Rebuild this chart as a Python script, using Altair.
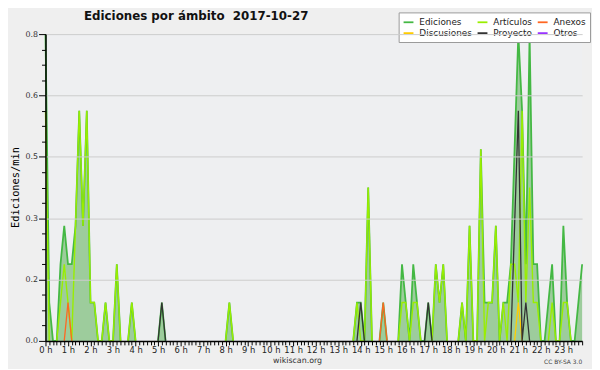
import altair as alt
import pandas as pd

# 10-minute bins over the day (144 bins), values in edits/min
series_names = ["Ediciones", "Artículos", "Anexos", "Discusiones", "Proyecto", "Otros"]
series_colors = ["#44b844", "#99ee00", "#ff6622", "#ffcc00", "#333333", "#9933ff"]
title_text = "Ediciones por ámbito\u00a0\u00a02017-10-27"

ediciones = [
    0.8, 0.1, 0, 0, 0.2, 0.3, 0.2, 0.2, 0.3, 0.6, 0.3, 0.6,
    0.1, 0.1, 0, 0, 0.1, 0, 0, 0.2, 0, 0, 0, 0.1,
    0, 0, 0, 0, 0, 0, 0, 0.1, 0, 0, 0, 0,
    0, 0, 0, 0, 0, 0, 0, 0, 0, 0, 0, 0,
    0, 0.1, 0, 0, 0, 0, 0, 0, 0, 0, 0, 0,
    0, 0, 0, 0, 0, 0, 0, 0, 0, 0, 0, 0,
    0, 0, 0, 0, 0, 0, 0, 0, 0, 0, 0, 0.1,
    0.1, 0, 0.4, 0, 0, 0, 0.1, 0, 0, 0, 0, 0.2,
    0.1, 0, 0.2, 0.1, 0, 0, 0.1, 0, 0.2, 0.1, 0.2, 0,
    0, 0, 0, 0.1, 0, 0.3, 0, 0, 0.5, 0.1, 0.1, 0.1,
    0.3, 0, 0.1, 0.1, 0.2, 0.5, 0.8, 0.6, 0.2, 0.8, 0.2, 0.2,
    0, 0, 0.1, 0.2, 0, 0, 0.3, 0.1, 0, 0, 0.1, 0.2,
]
articulos = [
    0.6, 0, 0, 0, 0.1, 0.2, 0.1, 0, 0.3, 0.6, 0.3, 0.6,
    0.1, 0.1, 0, 0, 0.1, 0, 0, 0.2, 0, 0, 0, 0.1,
    0, 0, 0, 0, 0, 0, 0, 0, 0, 0, 0, 0,
    0, 0, 0, 0, 0, 0, 0, 0, 0, 0, 0, 0,
    0, 0.1, 0, 0, 0, 0, 0, 0, 0, 0, 0, 0,
    0, 0, 0, 0, 0, 0, 0, 0, 0, 0, 0, 0,
    0, 0, 0, 0, 0, 0, 0, 0, 0, 0, 0, 0.1,
    0, 0, 0.4, 0, 0, 0, 0, 0, 0, 0, 0, 0.1,
    0.1, 0, 0.1, 0.1, 0, 0, 0, 0, 0.2, 0.1, 0.2, 0,
    0, 0, 0, 0.1, 0, 0.3, 0, 0, 0.5, 0, 0.1, 0.1,
    0.3, 0, 0.1, 0, 0.2, 0.2, 0.1, 0.6, 0.1, 0.4, 0.1, 0.1,
    0, 0, 0, 0.1, 0, 0, 0.1, 0.1, 0, 0, 0, 0,
]
anexos = [0] * 144
anexos[6] = 0.1
anexos[90] = 0.1
discusiones = [0] * 144
discusiones[126] = 0.1
proyecto = [0] * 144
proyecto[31] = 0.1
proyecto[84] = 0.1
proyecto[102] = 0.1
proyecto[125] = 0.3
proyecto[126] = 0.6
proyecto[128] = 0.1
otros = [0] * 144

hours = [i / 6 for i in range(144)]
y_ticks = [round(i * 0.04, 2) for i in range(21)]

all_series = [ediciones, articulos, anexos, discusiones, proyecto, otros]
rows = []
for name, vals in zip(series_names, all_series):
    n = len(vals)
    for i, (h, v) in enumerate(zip(hours, vals)):
        # the line is not drawn along the baseline: break it where the
        # point and both its neighbours are zero
        prev_v = vals[i - 1] if i > 0 else 0
        next_v = vals[i + 1] if i < n - 1 else 0
        line_v = None if (v == 0 and prev_v == 0 and next_v == 0) else v
        rows.append({"hora": h, "serie": name, "valor": v, "linea": line_v})
df = pd.DataFrame(rows)

ymajor = "abs(datum.value/0.16 - round(datum.value/0.16)) < 0.001"
xmajor = "abs(datum.value - round(datum.value)) < 0.001"

x_axis = alt.Axis(
    values=hours,
    labelExpr=f"{xmajor} ? round(datum.value) + ' h' : ''",
    tickSize={"condition": {"test": xmajor, "value": 5}, "value": 4},
    labelOverlap=False, labelFlush=False, labelBound=False,
    labelFont="DejaVu Sans", labelFontSize=8.5, labelColor="#222222", labelPadding=0,
    grid=False, domainColor="#000000", domainWidth=1.5, tickColor="#000000",
    title="wikiscan.org", titleFont="DejaVu Sans", titleFontSize=8, titleFontWeight="normal",
    titleColor="#333333", titleX=255, titleY=22, titleAlign="center", titleBaseline="alphabetic",
    zindex=1,
)
y_axis = alt.Axis(
    values=y_ticks,
    labelExpr=f"{ymajor} ? format(datum.value, '.1f') : ''",
    tickSize={"condition": {"test": ymajor, "value": 7}, "value": 4},
    gridOpacity={"condition": {"test": ymajor, "value": 1}, "value": 0},
    grid=True, gridColor="#cccccc", gridWidth=1,
    labelOverlap=False, labelFlush=False, labelBound=False,
    labelFont="DejaVu Sans", labelFontSize=8, labelColor="#333333", labelPadding=1,
    domainColor="#000000", domainWidth=1.5, tickColor="#000000",
    title="Ediciones/min", titleFont="DejaVu Sans Mono", titleFontSize=10.5,
    titleFontWeight="normal", titleColor="#000000", titleX=-30, titleY=155,
    titleAngle=270, titleAlign="center", titleBaseline="middle",
    zindex=1,
)

X = alt.X("hora:Q", scale=alt.Scale(domain=[0, 143 / 6], nice=False, zero=False), axis=x_axis)
Y = alt.Y("valor:Q", scale=alt.Scale(domain=[0, 0.8], nice=False), axis=y_axis)
YL = alt.Y("linea:Q", scale=alt.Scale(domain=[0, 0.8], nice=False), axis=y_axis)

legend = alt.Legend(
    orient="none", legendX=358, legendY=-22, columns=3, direction="horizontal", title=None,
    symbolType="stroke", symbolSize=100, symbolStrokeWidth=1.8,
    labelFont="DejaVu Sans", labelFontSize=9, labelColor="#222222", labelOffset=5,
    fillColor="#ffffff", strokeColor="#999999", padding=4,
    columnPadding=1, rowPadding=-4,
)
color = alt.Color("serie:N", scale=alt.Scale(domain=series_names, range=series_colors), legend=legend)

base = alt.Chart(df)
area = base.transform_filter(alt.datum.serie == "Ediciones").mark_area(
    color="#9dcc9c", opacity=1, interpolate="linear"
).encode(x=X, y=Y)

layers = [area]
widths = {"Ediciones": 1.8, "Artículos": 1.4}
for name in series_names:
    layers.append(
        base.transform_filter(alt.datum.serie == name)
        .mark_line(strokeWidth=widths.get(name, 1.3), interpolate="linear",
                   invalid="break-paths-show-domains")
        .encode(x=X, y=YL, color=color, order="hora:Q")
    )

cc = alt.Chart(pd.DataFrame({"t": ["CC BY-SA 3.0"]})).mark_text(
    align="right", baseline="alphabetic", font="DejaVu Sans", fontSize=6, color="#444444"
).encode(text="t:N", x=alt.value(544), y=alt.value(334))
layers.append(cc)

title = alt.Chart(pd.DataFrame({"t": [title_text]})).mark_text(
    align="left", baseline="alphabetic", font="DejaVu Sans", fontSize=12,
    fontWeight="bold", color="#111111"
).encode(text="t:N", x=alt.value(39), y=alt.value(-14.5))
layers.append(title)

chart = alt.layer(*layers).properties(
    width=544, height=311,
    autosize=alt.AutoSizeParams(type="none"),
    padding={"left": 38, "top": 24, "right": 10, "bottom": 26},
    background="#efefef",
).configure_view(stroke=None, fill="#eeeff1")

chart.save("out.html", embed_options={"renderer": "svg", "actions": False})
